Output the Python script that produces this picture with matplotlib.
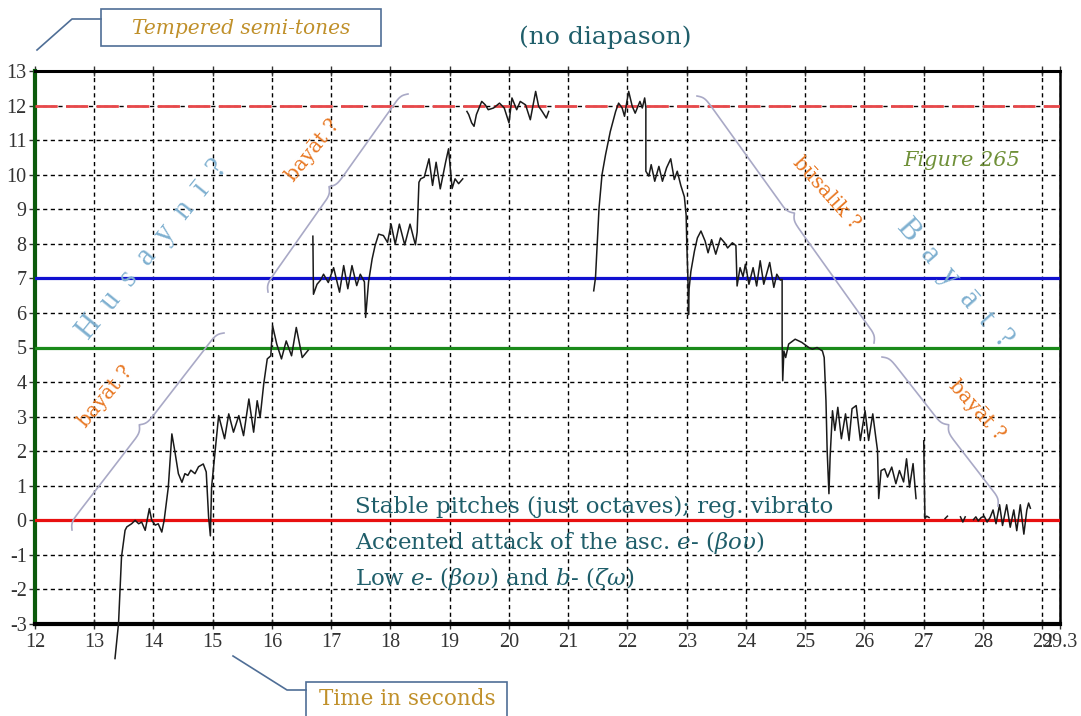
import numpy as np
import matplotlib
matplotlib.use("Agg")
import matplotlib.pyplot as plt
from matplotlib.lines import Line2D
from matplotlib.patches import Rectangle
from matplotlib.transforms import IdentityTransform

plt.rcParams['font.family'] = ['Liberation Serif', 'DejaVu Serif']
plt.rcParams['axes.unicode_minus'] = False
plt.rcParams['mathtext.fontset'] = 'custom'
plt.rcParams['mathtext.rm'] = 'DejaVu Serif'
plt.rcParams['mathtext.it'] = 'DejaVu Serif:italic'

# pitch contour, time in seconds / tempered semi-tones
t_rise = [13.35, 13.41, 13.46, 13.52, 13.55, 13.63, 13.69, 13.75, 13.80, 13.86, 13.93, 13.97,
          14.03, 14.08, 14.14, 14.18, 14.25, 14.31, 14.36, 14.42, 14.48, 14.53, 14.58, 14.63,
          14.70, 14.76, 14.84, 14.89, 14.93, 14.96, 14.98, 15.04, 15.10, 15.20, 15.27, 15.35,
          15.44, 15.52, 15.61, 15.69, 15.75, 15.80, 15.86, 15.92, 15.98, 16.01, 16.08, 16.16,
          16.24, 16.33, 16.41, 16.51, 16.61]
p_rise = [-4.0, -2.98, -1.06, -0.29, -0.19, -0.10, 0.0, -0.10, -0.05, -0.29, 0.34, 0.0,
          -0.14, -0.10, -0.34, 0.0, 0.96, 2.50, 2.00, 1.35, 1.10, 1.35, 1.30, 1.45,
          1.35, 1.55, 1.63, 1.40, 0.10, -0.45, 0.95, 2.00, 3.03, 2.36, 3.08, 2.55,
          3.03, 2.45, 3.51, 2.55, 3.46, 2.98, 3.94, 4.67, 4.76, 5.63, 5.10, 4.67,
          5.19, 4.76, 5.58, 4.71, 4.92]

t_mid = [16.69, 16.70, 16.76, 16.82, 16.87, 16.95, 17.04, 17.14, 17.21, 17.28, 17.35, 17.43,
         17.49, 17.56, 17.58, 17.63, 17.69, 17.74, 17.80, 17.88, 17.95, 18.01, 18.08, 18.15,
         18.24, 18.33, 18.42, 18.45, 18.48, 18.51, 18.57, 18.65, 18.71, 18.77, 18.84, 18.93,
         18.98, 19.04, 19.09, 19.15, 19.22]
p_mid = [8.22, 6.54, 6.83, 6.95, 7.12, 6.88, 7.31, 6.60, 7.37, 6.70, 7.37, 6.79,
         7.12, 6.90, 5.87, 6.90, 7.56, 7.95, 8.28, 8.24, 8.04, 8.57, 7.99, 8.57,
         7.97, 8.57, 7.97, 8.34, 9.78, 9.88, 9.93, 10.46, 9.69, 10.36, 9.59, 10.36,
         10.75, 9.60, 9.88, 9.74, 9.88]

t_octave = [19.29, 19.32, 19.37, 19.41, 19.45, 19.54, 19.60, 19.65, 19.74, 19.84, 19.92,
            20.00, 20.05, 20.13, 20.19, 20.28, 20.36, 20.45, 20.50, 20.56, 20.63, 20.67]
p_octave = [11.83, 11.74, 11.50, 11.40, 11.74, 12.12, 12.02, 11.88, 11.93, 12.07, 11.93,
            11.50, 12.22, 11.88, 12.12, 12.02, 11.59, 12.41, 11.98, 11.83, 11.64, 11.83]

t_fall = [21.43, 21.46, 21.52, 21.57, 21.63, 21.71, 21.80, 21.85, 21.91, 21.95, 21.99, 22.02,
          22.08, 22.13, 22.21, 22.25, 22.29, 22.31, 22.31, 22.36, 22.40, 22.46, 22.53, 22.59,
          22.66, 22.73, 22.79, 22.84, 22.90, 22.96, 22.99, 23.00, 23.02, 23.03, 23.04, 23.07,
          23.13, 23.18, 23.24, 23.31, 23.36, 23.42, 23.49, 23.57, 23.64, 23.69, 23.77, 23.83,
          23.85, 23.90, 23.95, 23.99, 24.05, 24.12, 24.18, 24.24, 24.30, 24.40, 24.47, 24.52,
          24.58, 24.61, 24.61, 24.62, 24.64, 24.67, 24.72, 24.83, 24.94, 25.06, 25.12, 25.20,
          25.29, 25.32, 25.35, 25.37, 25.40, 25.42, 25.46, 25.50, 25.55, 25.61, 25.68, 25.74,
          25.79, 25.86, 25.93, 26.01, 26.07, 26.14, 26.19, 26.22, 26.24, 26.28, 26.34, 26.39,
          26.46, 26.53, 26.59, 26.66, 26.71, 26.76, 26.82, 26.87]
p_fall = [6.64, 7.02, 9.04, 10.0, 10.58, 11.25, 11.83, 12.07, 11.93, 11.69, 12.12, 12.41,
          11.98, 11.78, 12.12, 11.93, 12.22, 11.95, 10.10, 9.96, 10.29, 9.81, 10.24, 9.81,
          10.20, 10.46, 9.86, 10.10, 9.69, 9.36, 8.83, 8.06, 7.00, 5.95, 6.70, 7.20,
          7.79, 8.17, 8.37, 8.08, 7.74, 8.12, 7.70, 8.17, 8.03, 7.88, 8.03, 7.95,
          6.78, 7.31, 7.05, 7.41, 6.83, 7.31, 6.78, 7.51, 6.83, 7.46, 6.74, 7.12,
          6.95, 6.97, 5.19, 4.04, 4.90, 4.71, 5.10, 5.24, 5.15, 5.00, 4.95, 5.00,
          4.90, 4.71, 3.46, 2.02, 0.77, 1.83, 3.17, 2.60, 3.27, 2.36, 3.08, 2.31,
          3.23, 3.32, 2.31, 3.17, 2.31, 3.08, 2.41, 2.02, 0.63, 1.44, 1.49, 1.25,
          1.54, 1.06, 1.44, 1.11, 1.78, 0.96, 1.64, 0.63]

nan = np.nan
t_end = [27.00, 27.02, 27.05, 27.09, nan, 27.36, 27.40, nan, 27.62, 27.66, 27.70, nan,
         27.84, 27.88, 27.92, 27.97, 28.02, 28.07, 28.12, 28.17, 28.22, 28.28, 28.33, 28.40,
         28.46, 28.52, 28.57, 28.63, 28.69, 28.74, 28.77, 28.80]
p_end = [2.30, 0.05, 0.12, 0.08, nan, 0.05, 0.12, nan, 0.10, -0.05, 0.10, nan,
         0.02, 0.10, -0.02, 0.08, 0.12, -0.05, 0.08, 0.30, -0.10, 0.45, -0.15, 0.45,
         -0.20, 0.30, -0.30, 0.45, -0.40, 0.30, 0.50, 0.35]

ref_levels = [12, 7, 5, 0]
ref_colors = ['#e8484a', '#1010d0', '#1a8a1a', '#e81010']
x_ticks = list(range(12, 30)) + [29.3]
x_labels = [str(v) for v in range(12, 30)] + ['29.3']
y_ticks = list(range(-3, 14))

W, H = 1081, 716
fig = plt.figure(figsize=(W / 100, H / 100), dpi=100)
ax = fig.add_axes([35 / W, 1 - 624 / H, (1060 - 35) / W, (624 - 71) / H])
ax.set_xlim(12, 29.3)
ax.set_ylim(-3, 13)
ax.set_xticks(x_ticks)
ax.set_xticklabels(x_labels)
ax.set_yticks(y_ticks)
ax.tick_params(labelsize=14.5, colors='#333333', width=1, pad=2)
ax.tick_params(axis='x', top=True, direction='inout', length=7, pad=3)
ax.tick_params(axis='y', length=4)
ax.grid(True, color='black', linestyle=(0, (3, 2.5)), linewidth=1)
ax.spines['left'].set_color('#0b5a0b')
ax.spines['left'].set_linewidth(3)
for s in ['bottom', 'top', 'right']:
    ax.spines[s].set_color('black')
ax.spines['bottom'].set_linewidth(3)
ax.spines['top'].set_linewidth(2.2)
ax.spines['right'].set_linewidth(1.8)

ax.axhline(ref_levels[0], color=ref_colors[0], lw=2, linestyle=(0, (8, 3)), zorder=3)
for lev, col in zip(ref_levels[1:], ref_colors[1:]):
    ax.axhline(lev, color=col, lw=2.3, zorder=3)

for tt, pp in [(t_rise, p_rise), (t_mid, p_mid), (t_octave, p_octave), (t_fall, p_fall), (t_end, p_end)]:
    ax.plot(tt, pp, color='#1a1a1a', lw=1.1, zorder=4, clip_on=False)
ax.set_ylim(-3, 13)

# ---- annotations (figure pixel coordinates, top-left origin) ----
def fx(x):
    return x / W

def fy(y):
    return 1 - y / H

serif = ['DejaVu Serif']
teal = '#1f5e6a'
gold = '#c0902a'
orange = '#e87722'
light_blue = '#7fb0d0'
lead = '#4f6e96'

def leader(pts):
    fig.add_artist(Line2D([fx(p[0]) for p in pts], [fy(p[1]) for p in pts],
                          transform=fig.transFigure, color=lead, lw=1.2))

def box(x0, y0, x1, y1):
    fig.add_artist(Rectangle((fx(x0), fy(y1)), (x1 - x0) / W, (y1 - y0) / H,
                             transform=fig.transFigure, fill=False, ec=lead, lw=1.2))

box(101, 9, 381, 46)
leader([(37, 50), (72, 19), (101, 19)])
fig.text(fx(241), fy(28), 'Tempered semi-tones', color=gold, style='italic', fontsize=14.5,
         family=serif, ha='center', va='center')

box(306, 682, 507, 730)
leader([(233, 656), (287, 690), (306, 690)])
fig.text(fx(407), fy(699), 'Time in seconds', color=gold, fontsize=15.5, family=serif,
         ha='center', va='center')

fig.text(fx(605), fy(37), '(no diapason)', color=teal, fontsize=18, family=serif,
         ha='center', va='center')
fig.text(fx(962), fy(160), 'Figure 265', color='#6f9038', style='italic', fontsize=15,
         family=serif, ha='center', va='center')

fig.text(fx(355), fy(507), 'Stable pitches (just octaves); reg. vibrato', color=teal,
         fontsize=16.5, family=serif, ha='left', va='center')
fig.text(fx(355), fy(543), r'Accented attack of the asc. $\mathit{e}$- ($\mathit{βου}$)',
         color=teal, fontsize=16.5, family=serif, ha='left', va='center')
fig.text(fx(355), fy(578), r'Low $\mathit{e}$- ($\mathit{βου}$) and $\mathit{b}$- ($\mathit{ζω}$)',
         color=teal, fontsize=16.5, family=serif, ha='left', va='center')

fig.text(fx(153), fy(250), 'H  u  s  a  y  n  ī  ?', color=light_blue, fontsize=22,
         rotation=51, rotation_mode='anchor', ha='center', va='center')
fig.text(fx(955), fy(283), 'B  a  y  ā  t  ?', color=light_blue, fontsize=22,
         rotation=-49, rotation_mode='anchor', ha='center', va='center')

fig.text(fx(105), fy(397), 'bayāt ?', color=orange, fontsize=14.5, family=serif, rotation=50,
         rotation_mode='anchor', ha='center', va='center')
fig.text(fx(313), fy(150), 'bayāt ?', color=orange, fontsize=14.5, family=serif, rotation=51,
         rotation_mode='anchor', ha='center', va='center')
fig.text(fx(826), fy(193), 'būsalik ?', color=orange, fontsize=14.5, family=serif, rotation=-48,
         rotation_mode='anchor', ha='center', va='center')
fig.text(fx(977), fy(410), 'bayāt ?', color=orange, fontsize=14.5, family=serif, rotation=-48,
         rotation_mode='anchor', ha='center', va='center')


def brace(p0, p1, h=22.0, k=0.35):
    # curly brace between two points, notch on the left of p0->p1 (screen y down)
    x0, y0 = p0
    x1, y1 = p1
    L = np.hypot(x1 - x0, y1 - y0)
    dx, dy = (x1 - x0) / L, (y1 - y0) / L
    nx, ny = dy, -dx
    u = np.linspace(0, L / 2, 200)
    v = 1 / (1 + np.exp(-k * u)) + 1 / (1 + np.exp(-k * (u - L / 2))) - 0.5
    u = np.concatenate([u, L - u[::-1]])
    v = np.concatenate([v, v[::-1]]) * h * 0.5
    xs = x0 + u * dx + v * nx
    ys = y0 + u * dy + v * ny
    fig.add_artist(Line2D(xs, H - ys, transform=IdentityTransform(),
                          color='#a9a9c6', lw=1.2))

brace((72, 530), (224, 333))
brace((268, 292), (408, 94))
brace((697, 96), (874, 343))
brace((882, 357), (998, 506))

fig.savefig('out.png', dpi=100)
